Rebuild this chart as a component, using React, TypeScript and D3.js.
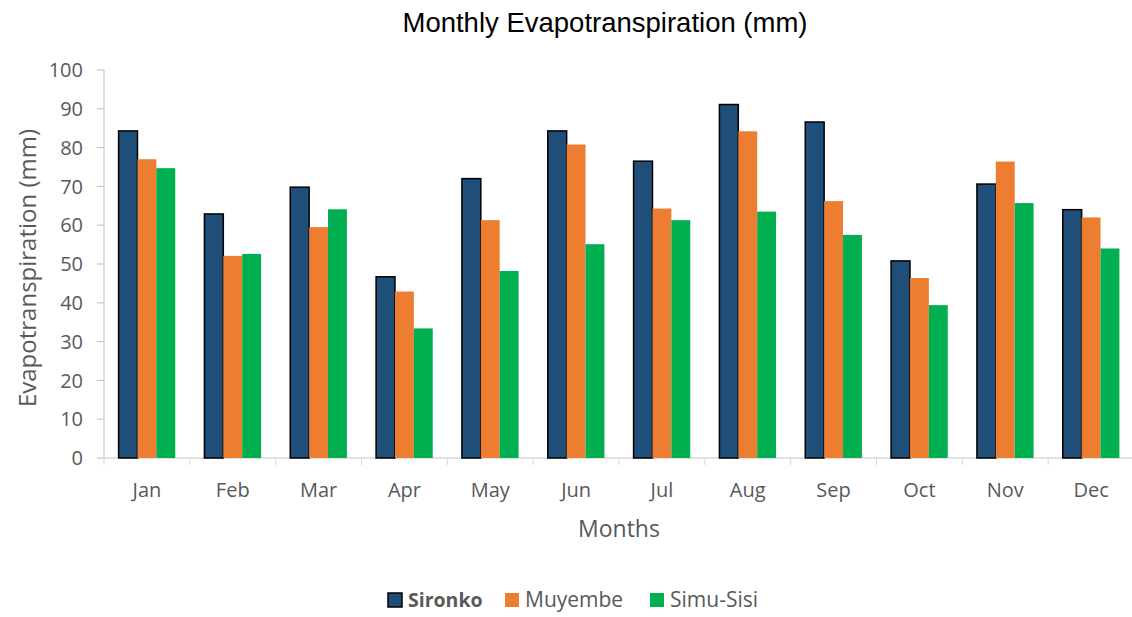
import React, { useEffect, useRef } from 'react';
import * as d3 from 'd3';

const months = ['Jan', 'Feb', 'Mar', 'Apr', 'May', 'Jun', 'Jul', 'Aug', 'Sep', 'Oct', 'Nov', 'Dec'];
const seriesNames = ['Sironko', 'Muyembe', 'Simu-Sisi'];
const sironko = [84.3, 62.9, 69.8, 46.7, 72.0, 84.3, 76.5, 91.1, 86.6, 50.8, 70.6, 64.0];
const muyembe = [77.0, 52.1, 59.5, 42.9, 61.3, 80.8, 64.3, 84.2, 66.2, 46.4, 76.4, 62.0];
const simuSisi = [74.7, 52.6, 64.1, 33.4, 48.2, 55.1, 61.3, 63.5, 57.5, 39.4, 65.7, 54.0];
const yTicks = [0, 10, 20, 30, 40, 50, 60, 70, 80, 90, 100];
const colors = ['#1F4E79', '#ED7D31', '#00B050'];

const W = 1132;
const H = 617;
const FONT = '"Open Sans", "Liberation Sans", sans-serif';

const App: React.FC = () => {
    const svgRef = useRef<SVGSVGElement>(null);

    useEffect(() => {
        if (!svgRef.current) return;
        const svg = d3.select(svgRef.current);
        svg.selectAll('*').remove();

        const left = 104;
        const right = 1134;
        const top = 70;
        const bottom = 458;
        const data = [sironko, muyembe, simuSisi];

        const x = d3.scaleBand<string>().domain(months).range([left, right]).paddingInner(0.34).paddingOuter(0.17);
        const xs = d3.scaleBand<string>().domain(seriesNames).range([0, x.bandwidth()]);
        const y = d3.scaleLinear().domain([0, 100]).range([bottom, top]);

        // title
        svg.append('text')
            .attr('x', 605).attr('y', 32)
            .attr('text-anchor', 'middle')
            .attr('font-family', '"Liberation Sans", Arial, sans-serif')
            .attr('font-size', 27.5)
            .attr('fill', '#000')
            .text('Monthly Evapotranspiration (mm)');

        // y axis
        const yAxis = svg.append('g');
        yAxis.append('line')
            .attr('x1', left).attr('x2', left).attr('y1', top).attr('y2', bottom)
            .attr('stroke', '#BFBFBF').attr('stroke-width', 1);
        yAxis.selectAll('.ytick')
            .data(yTicks)
            .enter()
            .append('line')
            .attr('x1', left - 7).attr('x2', left)
            .attr('y1', d => y(d)).attr('y2', d => y(d))
            .attr('stroke', '#BFBFBF');
        yAxis.selectAll('.ylabel')
            .data(yTicks)
            .enter()
            .append('text')
            .attr('x', left - 21)
            .attr('y', d => y(d))
            .attr('dy', '0.36em')
            .attr('text-anchor', 'end')
            .attr('font-family', FONT)
            .attr('font-size', 20)
            .attr('fill', '#595959')
            .text(d => d);

        // x axis
        const xAxis = svg.append('g');
        xAxis.append('line')
            .attr('x1', left).attr('x2', right).attr('y1', bottom).attr('y2', bottom)
            .attr('stroke', '#D9D9D9').attr('stroke-width', 1.5);
        const bounds = months.map(m => x(m)! - (x.step() * x.paddingInner()) / 2);
        xAxis.selectAll('.xtick')
            .data(bounds)
            .enter()
            .append('line')
            .attr('x1', d => d).attr('x2', d => d)
            .attr('y1', bottom).attr('y2', bottom + 7)
            .attr('stroke', '#D9D9D9');
        xAxis.selectAll('.xlabel')
            .data(months)
            .enter()
            .append('text')
            .attr('x', d => x(d)! + x.bandwidth() / 2)
            .attr('y', 497)
            .attr('text-anchor', 'middle')
            .attr('font-family', FONT)
            .attr('font-size', 20)
            .attr('fill', '#595959')
            .text(d => d);

        // bars
        data.forEach((vals, si) => {
            svg.append('g')
                .selectAll('rect')
                .data(vals)
                .enter()
                .append('rect')
                .attr('x', (d, i) => x(months[i])! + xs(seriesNames[si])!)
                .attr('y', d => y(d))
                .attr('width', xs.bandwidth())
                .attr('height', d => bottom - y(d))
                .attr('fill', colors[si])
                .attr('stroke', si === 0 ? '#000' : 'none')
                .attr('stroke-width', si === 0 ? 1.5 : 0);
        });

        // axis titles
        svg.append('text')
            .attr('transform', `translate(36,${268}) rotate(-90)`)
            .attr('text-anchor', 'middle')
            .attr('font-family', FONT)
            .attr('font-size', 24)
            .attr('fill', '#595959')
            .text('Evapotranspiration (mm)');
        svg.append('text')
            .attr('x', 619).attr('y', 537)
            .attr('text-anchor', 'middle')
            .attr('font-family', FONT)
            .attr('font-size', 23)
            .attr('fill', '#595959')
            .text('Months');

        // legend
        const legendX = [388, 505, 650];
        const legend = svg.append('g');
        seriesNames.forEach((name, i) => {
            legend.append('rect')
                .attr('x', legendX[i]).attr('y', 593)
                .attr('width', 14).attr('height', 14)
                .attr('fill', colors[i])
                .attr('stroke', i === 0 ? '#000' : 'none')
                .attr('stroke-width', i === 0 ? 1.5 : 0);
            legend.append('text')
                .attr('x', legendX[i] + 20).attr('y', 607)
                .attr('font-family', FONT)
                .attr('font-size', i === 0 ? 19.5 : 21)
                .attr('font-weight', i === 0 ? 'bold' : 'normal')
                .attr('fill', '#595959')
                .text(name);
        });
    }, []);

    return (
        <svg ref={svgRef} width={W} height={H} style={{ position: 'absolute', left: 0, top: 0, background: '#fff' }} />
    );
};

export default App;
